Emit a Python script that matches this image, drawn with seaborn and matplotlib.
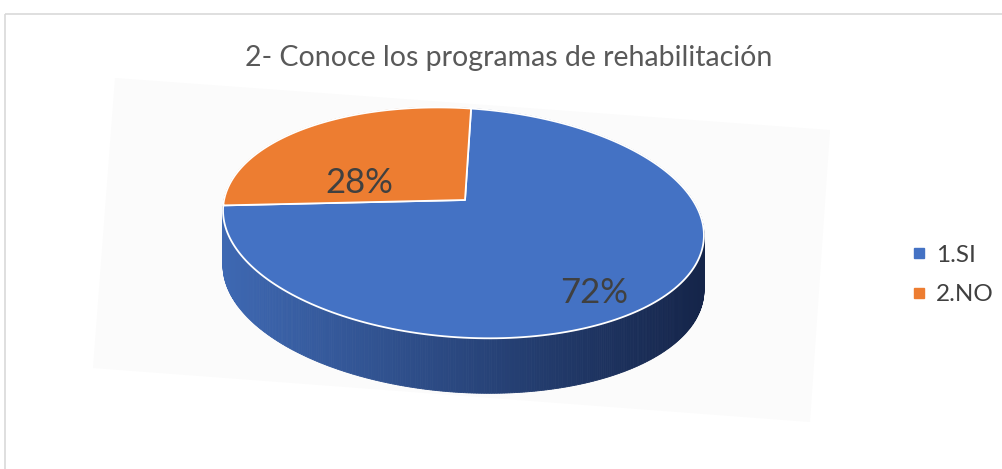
import matplotlib
matplotlib.use("Agg")
import matplotlib.pyplot as plt
import matplotlib.colors as mcolors
from matplotlib.patches import Polygon, Rectangle
from matplotlib.lines import Line2D
import numpy as np
import seaborn as sns

# ─── DATA ────────────────────────────────────────────────────────────────────
title = "2- Conoce los programas de rehabilitación"
categories = ["1.SI", "2.NO"]
values = [72, 28]
slice_colors = ["#4472C4", "#ED7D31"]

# ─── STYLE ───────────────────────────────────────────────────────────────────
sns.set_theme(style="white")
plt.rcParams["font.family"] = ["Lato", "DejaVu Sans"]
TXT = "#404040"
TITLE_C = "#595959"

W, H = 1003, 469
fig = plt.figure(figsize=(W / 100, H / 100), dpi=100, facecolor="white")
ax = fig.add_axes([0, 0, 1, 1])
ax.set_xlim(0, W)
ax.set_ylim(H, 0)
ax.axis("off")

# chart frame
ax.add_patch(Rectangle((5, 14), W, H, fill=False, edgecolor="#D9D9D9", lw=1.2))

# faint 3D floor behind the pie
ax.add_patch(Polygon([(115, 78), (830, 130), (810, 422), (93, 368)],
                     closed=True, facecolor="#FBFBFB", edgecolor="none"))

# ─── 3D PIE GEOMETRY (pixel space) ───────────────────────────────────────────
cx, cy = 465, 200      # pie centre on top face
A, B = 236, 110        # half width / depth
k = 0.2                # perspective strength
rot = np.deg2rad(3.8)  # slight tilt of the whole pie
depth = 55


def proj(phi, r=1.0):
    """phi in degrees, clockwise from the far (top) point."""
    p = np.deg2rad(phi)
    s = 1.0 / (1.0 + k * np.cos(p) * r)
    x = A * r * np.sin(p) * s
    y = -B * r * np.cos(p) * s
    xr = x * np.cos(rot) - y * np.sin(rot)
    yr = x * np.sin(rot) + y * np.cos(rot)
    return cx + xr, cy + yr


# slice angle ranges from the data (clockwise from top)
fracs = np.array(values, dtype=float) / sum(values)
bounds = np.concatenate([[0], np.cumsum(fracs) * 360])

# side wall: thin strips with a horizontal shading gradient
c_left = np.array(mcolors.to_rgb("#3E68B2"))
c_right = np.array(mcolors.to_rgb("#15254A"))
phis = np.linspace(0, 360, 721)
order = np.argsort(-np.cos(np.deg2rad(phis[:-1])))
for i in order:
    p0, p1 = phis[i], phis[i + 1]
    x0, y0 = proj(p0)
    x1, y1 = proj(p1)
    t = np.clip(((x0 + x1) / 2 - 225) / (700 - 225), 0, 1)
    col = c_left * (1 - t) + c_right * t
    # which slice owns this part of the wall
    idx = np.searchsorted(bounds, (p0 + p1) / 2) - 1
    if idx == 1:
        col = np.array(mcolors.to_rgb("#A85620"))
    ax.add_patch(Polygon([(x0, y0), (x1, y1), (x1, y1 + depth), (x0, y0 + depth)],
                         closed=True, facecolor=col, edgecolor=col, lw=0.6))

# top face wedges
for i, (cat, col) in enumerate(zip(categories, slice_colors)):
    arc = np.linspace(bounds[i], bounds[i + 1], 200)
    xs, ys = proj(arc)
    pts = [(cx, cy)] + list(zip(xs, ys))
    ax.add_patch(Polygon(pts, closed=True, facecolor=col, edgecolor="white",
                         lw=1.3, joinstyle="round"))

# percentage labels
ax.text(594, 293, f"{values[0]}%", ha="center", va="center", fontsize=25, color=TXT)
ax.text(359, 183, f"{values[1]}%", ha="center", va="center", fontsize=25, color=TXT)

# title
ax.text(509, 58, title, ha="center", va="center", fontsize=20.5, color=TITLE_C)

# legend
handles = [Line2D([0], [0], marker="s", linestyle="none", markersize=6.5,
                  markerfacecolor=c, markeredgecolor=c) for c in slice_colors]
leg = ax.legend(handles, categories, loc="center left",
                bbox_to_anchor=(891 / W, 1 - 275 / H), frameon=False,
                fontsize=17.5, labelcolor=TXT, handlelength=0.5, handletextpad=0.45,
                labelspacing=0.75)

fig.savefig("out.png", dpi=100, facecolor="white")
